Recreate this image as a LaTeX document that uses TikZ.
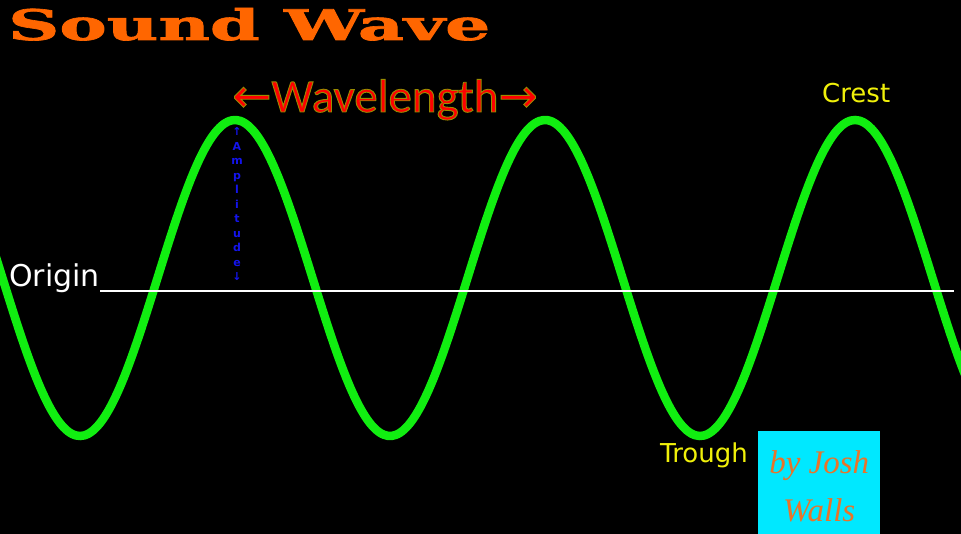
\documentclass[tikz,border=0pt]{standalone}
\usepackage{fontspec}
\usepackage{graphicx}
\setmainfont{DejaVu Sans}
\newfontfamily\titlefont{DejaVu Serif}[BoldFeatures={FakeBold=1.5}]
\newfontfamily\wavefont{Carlito}
\newfontfamily\arrowfont{DejaVu Sans}
\newfontfamily\creditfont{Liberation Serif}
\definecolor{wavegreen}{RGB}{17,238,17}
\definecolor{titleorange}{RGB}{255,102,0}
\definecolor{tagyellow}{RGB}{240,240,10}
\definecolor{amplblue}{RGB}{20,20,235}
\definecolor{creditcyan}{RGB}{0,232,255}
\definecolor{creditorange}{RGB}{232,116,42}
% thin olive halo drawn as a stroke round the letters
\newcommand{\glowtext}[2]{\special{pdf:literal direct 2 Tr #1 w 0.6 0.55 0 RG}#2\special{pdf:literal direct 0 Tr}}

\begin{document}
\begin{tikzpicture}[
  x=1pt, y=-1pt,
  wave/.style={wavegreen, line width=8.5pt},
  axisline/.style={white, line width=1.6pt},
  tag/.style={anchor=base west, inner sep=0pt, text=tagyellow, font=\fontsize{26}{30}\selectfont},
  ampltext/.style={inner sep=0pt, align=center, text=amplblue, font=\bfseries\fontsize{11}{14.5}\selectfont},
  creditbox/.style={anchor=north west, inner sep=0pt, fill=creditcyan, minimum width=122pt, minimum height=110pt, align=center, text=creditorange, font=\creditfont\itshape\fontsize{33}{48}\selectfont},
]
\fill[black] (0,0) rectangle (961,534);
\clip (0,0) rectangle (961,534);

\node[anchor=base west, inner sep=0pt, text=titleorange] (title) at (8,40) {\resizebox{482pt}{32pt}{\titlefont\bfseries Sound Wave}};

\draw[wave] plot[domain=-10:970, samples=240, smooth] (\x, {278 - 158*cos((\x-235)/310*360)});

\node[anchor=base west, inner sep=0pt, text=white, font=\fontsize{30}{36}\selectfont] (origin) at (9,287) {Origin};
\coordinate (axisend) at (954,291);
\draw[axisline] (origin.east |- axisend) -- (axisend);

\node[anchor=base, inner sep=0pt, text=red, font=\fontsize{47}{52}\selectfont] (wavelen) at (385,112) {\glowtext{0.9}{{\arrowfont ←}{\wavefont Wavelength}{\arrowfont →}}};
\node[ampltext] (ampl) at (237,204) {↑\\A\\m\\p\\l\\i\\t\\u\\d\\e\\↓};
\node[tag] (crest) at (822,103) {Crest};
\node[tag] (trough) at (660,462) {Trough};
\node[creditbox] (credit) at (758,431) {by Josh\\Walls};
\end{tikzpicture}
\end{document}
